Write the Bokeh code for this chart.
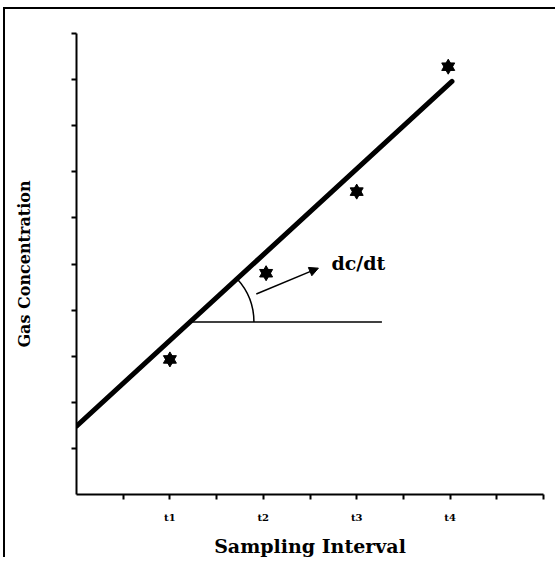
import math
from bokeh.plotting import figure
from bokeh.models import FixedTicker, Arrow, NormalHead, Range1d
from bokeh.core.properties import value
from bokeh.embed import file_html
from bokeh.resources import INLINE

# ---- data ----
sample_x = [2.0, 4.06, 6.0, 7.96]
gas_conc = [2.93, 4.80, 6.57, 9.28]
tick_pos = [2, 4, 6, 8]
tick_labels = ["t1", "t2", "t3", "t4"]
fit_x = [0.0, 8.04]
fit_y = [1.48, 8.96]
ref_y_level = 3.74
ref_x_end = 6.54
arrow_x = [3.85, 5.18]
arrow_y = [4.35, 4.91]
note_x = [5.46]
note_y = [5.02]
note_text = ["dc/dt"]

FONT = "DejaVu Serif"

p = figure(width=550, height=548, output_backend="svg", toolbar_location=None,
           x_range=Range1d(0, 10), y_range=Range1d(0, 10),
           min_border_left=71, min_border_right=14, min_border_top=24,
           min_border_bottom=64)
p.styles = {"border-top": "2px solid black", "border-left": "2px solid black",
            "margin-left": "3px", "margin-top": "7px",
            "box-sizing": "content-box", "overflow": "hidden"}
p.outline_line_color = None
p.grid.visible = False
p.background_fill_color = "white"
p.border_fill_color = "white"

ticks = list(range(1, 11))
for ax in (p.xaxis[0], p.yaxis[0]):
    ax.ticker = FixedTicker(ticks=ticks)
    ax.axis_line_width = 2
    ax.axis_line_color = "black"
    ax.major_tick_line_width = 2
    ax.major_tick_line_color = "black"
    ax.major_tick_in = 0
    ax.major_tick_out = 5
    ax.minor_tick_line_color = None
    ax.axis_label_text_font = FONT
    ax.axis_label_text_font_style = "bold"
    ax.axis_label_text_color = "black"
    ax.major_label_text_font = FONT
    ax.major_label_text_font_style = "bold"
    ax.major_label_text_color = "black"

overrides = {t: "" for t in ticks}
for t, lab in zip(tick_pos, tick_labels):
    overrides[t] = lab
p.xaxis[0].major_label_overrides = overrides
p.xaxis[0].major_label_text_font_size = "10px"
p.xaxis[0].major_label_standoff = 12
p.xaxis[0].axis_label = "Sampling Interval"
p.xaxis[0].axis_label_text_font_size = "19px"
p.xaxis[0].axis_label_standoff = 9

p.yaxis[0].major_label_overrides = {t: "" for t in ticks}
p.yaxis[0].major_label_text_font_size = "1px"
p.yaxis[0].axis_label = "Gas Concentration"
p.yaxis[0].axis_label_text_font_size = "16px"
p.yaxis[0].axis_label_standoff = 38

# fitted line
p.line(fit_x, fit_y, line_width=5, line_color="black", line_cap="round")

# horizontal reference line from intersection
slope = (fit_y[1] - fit_y[0]) / (fit_x[1] - fit_x[0])
xi = fit_x[0] + (ref_y_level - fit_y[0]) / slope
p.line([xi, ref_x_end], [ref_y_level, ref_y_level], line_width=1.5, line_color="black")

# angle arc (screen angle of the fit line)
px_x = 465 / 10.0
px_y = 460 / 10.0
ang = math.atan(slope * px_y / px_x)
p.arc(x=[xi], y=[ref_y_level], radius=64, radius_units="screen",
      start_angle=0, end_angle=ang, line_color="black", line_width=1.5)

# arrow
p.add_layout(Arrow(end=NormalHead(size=9, fill_color="black", line_color="black"),
                   x_start=arrow_x[0], y_start=arrow_y[0],
                   x_end=arrow_x[1], y_end=arrow_y[1],
                   line_width=1.5, line_color="black"))

p.text(note_x, note_y, text=note_text, text_font=value(FONT),
       text_font_style="bold", text_font_size="19px", text_color="black",
       text_align="left", text_baseline="middle")

# six-pointed star markers
p.scatter(sample_x, gas_conc, marker="triangle", size=13, fill_color="black", line_color="black")
p.scatter(sample_x, gas_conc, marker="inverted_triangle", size=13, fill_color="black", line_color="black")

open("out.html", "w").write(file_html(p, INLINE))
